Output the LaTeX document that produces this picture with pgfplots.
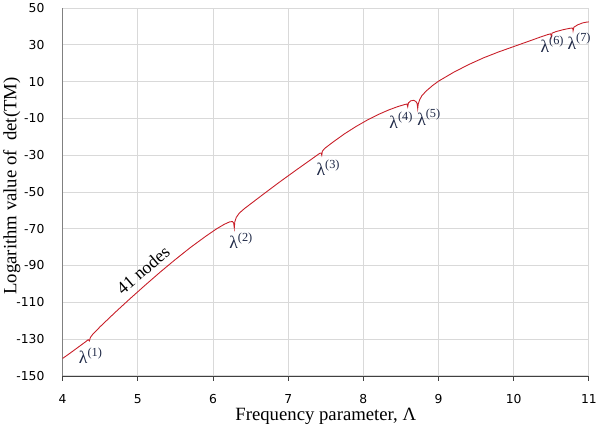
\documentclass[border=0pt]{standalone}
\usepackage{pgfplots}
\pgfplotsset{compat=1.18}
\usepackage{fontspec}
\setmainfont{Liberation Serif}
\newfontfamily\tickfont{DejaVu Sans}
\definecolor{curvered}{RGB}{200,30,40}
\definecolor{lamcol}{RGB}{30,40,70}
\definecolor{gridgray}{RGB}{217,217,217}
\newcommand{\lam}[1]{λ\raisebox{0.42em}{\fontsize{12.5}{12.5}\selectfont(#1)}}
\begin{document}
\begin{tikzpicture}
\begin{axis}[
  scale only axis,
  width=532bp, height=372bp,
  xmin=4, xmax=11, ymin=-150, ymax=50,
  xtick={4,5,...,11},
  ytick={-150,-130,...,50},
  axis x line=bottom, axis y line=left,
  axis line style={-},
  x axis line style={draw=black!75},
  y axis line style={draw=black!50},
  grid=major,
  major grid style={draw=gridgray, line width=0.8bp},
  xtick style={draw=black!75, line width=0.8bp},
  ytick style={draw=none},
  tick align=outside,
  major tick length=5bp,
  /pgf/number format/assume math mode=true,
  ticklabel style={font=\tickfont\fontsize{12.5}{12.5}\selectfont},
  yticklabel shift=10bp,
  xticklabel shift=10bp,
  xlabel={Frequency parameter, Λ},
  ylabel={Logarithm value of \ det(TM)},
  label style={font=\fontsize{19}{19}\selectfont},
  xlabel style={yshift=2bp},
  ylabel style={yshift=-11bp, xshift=6bp},
  clip=false,
]
\addplot[color=curvered, line width=0.9bp, mark=none] coordinates {
(4.00,-140.5) (4.10,-137.6) (4.20,-134.6) (4.30,-131.6) (4.34,-130.3)
(4.355,-131.0) (4.37,-129.0) (4.40,-127.4) (4.50,-123.2) (4.70,-115.4)
(4.90,-107.9) (5.10,-100.6) (5.30,-93.5) (5.50,-86.7) (5.70,-80.2)
(5.90,-74.2) (6.05,-70.0) (6.15,-67.6) (6.22,-66.3) (6.26,-66.1)
(6.275,-67.0) (6.283,-69.6) (6.29,-66.2) (6.31,-63.8) (6.35,-61.5)
(6.42,-59.0) (6.52,-55.9) (6.70,-50.3) (6.90,-44.2) (7.10,-38.3)
(7.30,-32.5) (7.42,-29.0) (7.44,-28.9) (7.447,-30.0) (7.455,-27.8)
(7.49,-26.2) (7.60,-22.8) (7.75,-18.4) (7.90,-14.5) (8.05,-11.0)
(8.20,-7.9) (8.34,-5.4) (8.46,-3.6) (8.55,-2.5) (8.58,-2.2)
(8.59,-3.7) (8.60,-1.6) (8.63,-0.5) (8.67,-0.2) (8.70,-0.9)
(8.715,-2.0) (8.723,-4.7) (8.73,-2.2) (8.75,0.2) (8.78,2.4)
(8.84,5.0) (8.92,7.8) (9.00,10.2) (9.20,15.0) (9.40,19.2)
(9.60,22.9) (9.80,26.1) (10.00,29.0) (10.20,31.9) (10.35,34.1)
(10.45,35.5) (10.49,35.9) (10.497,35.2) (10.50,34.3) (10.51,36.3)
(10.56,37.1) (10.65,38.1) (10.73,38.8) (10.78,39.1) (10.787,38.5)
(10.79,37.6) (10.80,39.5) (10.85,40.8) (10.92,41.9) (10.97,42.3)
(11.00,42.4)
};
\begin{scope}[every node/.style={font=\fontsize{18}{18}\selectfont, text=lamcol, inner sep=0pt}]
\node at (axis cs:4.37,-138.9) {\lam{1}};
\node at (axis cs:6.37,-76.5) {\lam{2}};
\node at (axis cs:7.53,-36.9) {\lam{3}};
\node at (axis cs:8.50,-11.1) {\lam{4}};
\node at (axis cs:8.87,-9.5) {\lam{5}};
\node at (axis cs:10.51,30.2) {\lam{6}};
\node at (axis cs:10.87,31.8) {\lam{7}};
\end{scope}
\node[font=\fontsize{18}{18}\selectfont, rotate=40.5, inner sep=0pt] at (axis cs:5.07,-92.5) {41 nodes};
\end{axis}
\end{tikzpicture}
\end{document}
